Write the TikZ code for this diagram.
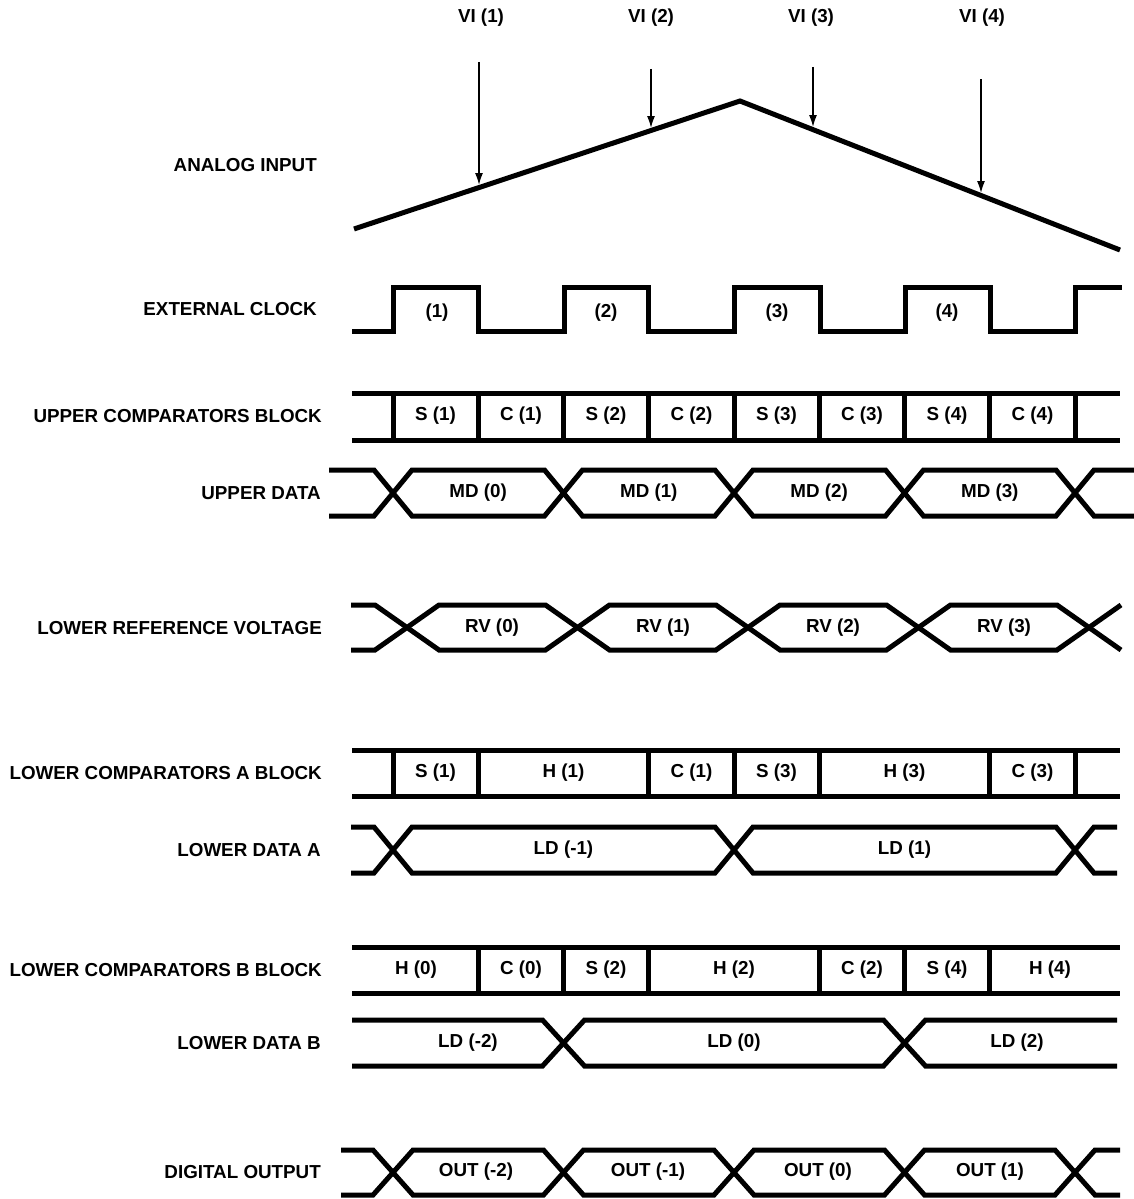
\documentclass[tikz,border=0pt]{standalone}
\usepackage{fontspec}
\setmainfont{Liberation Sans}
\usetikzlibrary{arrows.meta,calc}
\begin{document}
\begin{tikzpicture}[x=1pt,y=-1pt,
  wave/.style={line width=5pt,line join=miter},
  lbl/.style={font=\fontsize{18.8}{20}\selectfont\bfseries,inner sep=0pt,anchor=east},
  txt/.style={font=\fontsize{18.8}{20}\selectfont\bfseries,inner sep=0pt},
  viarrow/.style={line width=1.5pt,-{Latex[length=12pt,width=8pt]}}]
\useasboundingbox (0,0) rectangle (1134,1199);
% ---------- row labels
\node[lbl] (lAI)  at (317,165) {ANALOG INPUT};
\node[lbl] (lEC)  at (317,309) {EXTERNAL CLOCK};
\node[lbl] (lUC)  at (322,416) {UPPER COMPARATORS BLOCK};
\node[lbl] (lUD)  at (321,493) {UPPER DATA};
\node[lbl] (lLRV) at (322,628) {LOWER REFERENCE VOLTAGE};
\node[lbl] (lLCA) at (322,773) {LOWER COMPARATORS A BLOCK};
\node[lbl] (lLDA) at (321,850) {LOWER DATA A};
\node[lbl] (lLCB) at (322,970) {LOWER COMPARATORS B BLOCK};
\node[lbl] (lLDB) at (321,1043) {LOWER DATA B};
\node[lbl] (lDO)  at (321,1172) {DIGITAL OUTPUT};
% ---------- analog input
\coordinate (a0) at (354,229);
\coordinate (apex) at (740,101);
\coordinate (a1) at (1120,250);
\draw[wave] (a0) -- (apex) -- (a1);
\node[txt] (vi1) at (481,18) {VI (1)};
\node[txt] (vi2) at (651,18) {VI (2)};
\node[txt] (vi3) at (811,18) {VI (3)};
\node[txt] (vi4) at (982,18) {VI (4)};
\coordinate (s1) at (479,62);  \coordinate (e1) at (479,185);
\coordinate (s2) at (651,69);  \coordinate (e2) at (651,128);
\coordinate (s3) at (813,67);  \coordinate (e3) at (813,127);
\coordinate (s4) at (981,79);  \coordinate (e4) at (981,193);
\foreach \i in {1,2,3,4} \draw[viarrow] (s\i) -- (e\i);
% ---------- external clock
\draw[wave] (352,331) -- (393,331) -- (393,287) -- (478,287) -- (478,331)
  -- (564,331) -- (564,287) -- (648,287) -- (648,331) -- (734,331) -- (734,287)
  -- (820,287) -- (820,331) -- (905,331) -- (905,287) -- (990,287) -- (990,331)
  -- (1075,331) -- (1075,287) -- (1122,287);
\node[txt] (ck1) at (437,313) {(1)};
\node[txt] (ck2) at (606,313) {(2)};
\node[txt] (ck3) at (777,313) {(3)};
\node[txt] (ck4) at (947,313) {(4)};
% ---------- upper comparators block
\draw[wave] (352,393) -- (1120,393);
\draw[wave] (352,440) -- (1120,440);
\foreach \x in {393,478.25,563.5,648.75,734,819.25,904.5,989.75,1075}
  \draw[wave] (\x,393) -- (\x,440);
\foreach \x/\t [count=\i] in {435.6/S (1),520.9/C (1),606.1/S (2),691.4/C (2),776.6/S (3),861.9/C (3),947.1/S (4),1032.4/C (4)}
  \node[txt] (uc\i) at (\x,416) {\t};
% ---------- upper data
\draw[wave] (329,470) -- (374,470) -- (412,516) -- (544.5,516) -- (582.5,470) -- (715,470)
  -- (753,516) -- (885.5,516) -- (923.5,470) -- (1056,470) -- (1094,516) -- (1134,516);
\draw[wave] (329,516) -- (374,516) -- (412,470) -- (544.5,470) -- (582.5,516) -- (715,516)
  -- (753,470) -- (885.5,470) -- (923.5,516) -- (1056,516) -- (1094,470) -- (1134,470);
\foreach \x/\t [count=\i] in {478.2/MD (0),648.8/MD (1),819.2/MD (2),989.8/MD (3)}
  \node[txt] (md\i) at (\x,493) {\t};
% ---------- lower reference voltage
\draw[wave] (351,605) -- (375,605) -- (439,650) -- (545.5,650) -- (609.5,605) -- (716,605)
  -- (780,650) -- (886.5,650) -- (950.5,605) -- (1057,605) -- (1121,650);
\draw[wave] (351,650) -- (375,650) -- (439,605) -- (545.5,605) -- (609.5,650) -- (716,650)
  -- (780,605) -- (886.5,605) -- (950.5,650) -- (1057,650) -- (1121,605);
\foreach \x/\t [count=\i] in {492/RV (0),663/RV (1),833/RV (2),1004/RV (3)}
  \node[txt] (rv\i) at (\x,628) {\t};
% ---------- lower comparators A block
\draw[wave] (352,750) -- (1120,750);
\draw[wave] (352,796) -- (1120,796);
\foreach \x in {393,478.25,648.75,734,819.25,989.75,1075}
  \draw[wave] (\x,750) -- (\x,796);
\foreach \x/\t [count=\i] in {435.6/S (1),563.5/H (1),691.4/C (1),776.6/S (3),904.5/H (3),1032.4/C (3)}
  \node[txt] (lca\i) at (\x,773) {\t};
% ---------- lower data A
\draw[wave] (351,827) -- (374,827) -- (412,873) -- (715,873) -- (753,827) -- (1056,827) -- (1094,873) -- (1117,873);
\draw[wave] (351,873) -- (374,873) -- (412,827) -- (715,827) -- (753,873) -- (1056,873) -- (1094,827) -- (1117,827);
\node[txt] (lda1) at (563.5,850) {LD (-1)};
\node[txt] (lda2) at (904.5,850) {LD (1)};
% ---------- lower comparators B block
\draw[wave] (352,947) -- (1120,947);
\draw[wave] (352,993) -- (1120,993);
\foreach \x in {478.25,563.5,648.75,819.25,904.5,989.75}
  \draw[wave] (\x,947) -- (\x,993);
\foreach \x/\t [count=\i] in {416/H (0),520.9/C (0),606.1/S (2),734/H (2),861.9/C (2),947.1/S (4),1050/H (4)}
  \node[txt] (lcb\i) at (\x,970) {\t};
% ---------- lower data B
\draw[wave] (352,1020) -- (542.5,1020) -- (584.5,1066) -- (883.5,1066) -- (925.5,1020) -- (1117,1020);
\draw[wave] (352,1066) -- (542.5,1066) -- (584.5,1020) -- (883.5,1020) -- (925.5,1066) -- (1117,1066);
\node[txt] (ldb1) at (468,1043) {LD (-2)};
\node[txt] (ldb2) at (734,1043) {LD (0)};
\node[txt] (ldb3) at (1017,1043) {LD (2)};
% ---------- digital output
\draw[wave] (341,1150) -- (373,1150) -- (413,1195) -- (543.5,1195) -- (583.5,1150) -- (714,1150)
  -- (754,1195) -- (884.5,1195) -- (924.5,1150) -- (1055,1150) -- (1095,1195) -- (1120,1195);
\draw[wave] (341,1195) -- (373,1195) -- (413,1150) -- (543.5,1150) -- (583.5,1195) -- (714,1195)
  -- (754,1150) -- (884.5,1150) -- (924.5,1195) -- (1055,1195) -- (1095,1150) -- (1120,1150);
\foreach \x/\t [count=\i] in {476/OUT (-2),648/OUT (-1),818/OUT (0),990/OUT (1)}
  \node[txt] (do\i) at (\x,1172) {\t};
\end{tikzpicture}
\end{document}
